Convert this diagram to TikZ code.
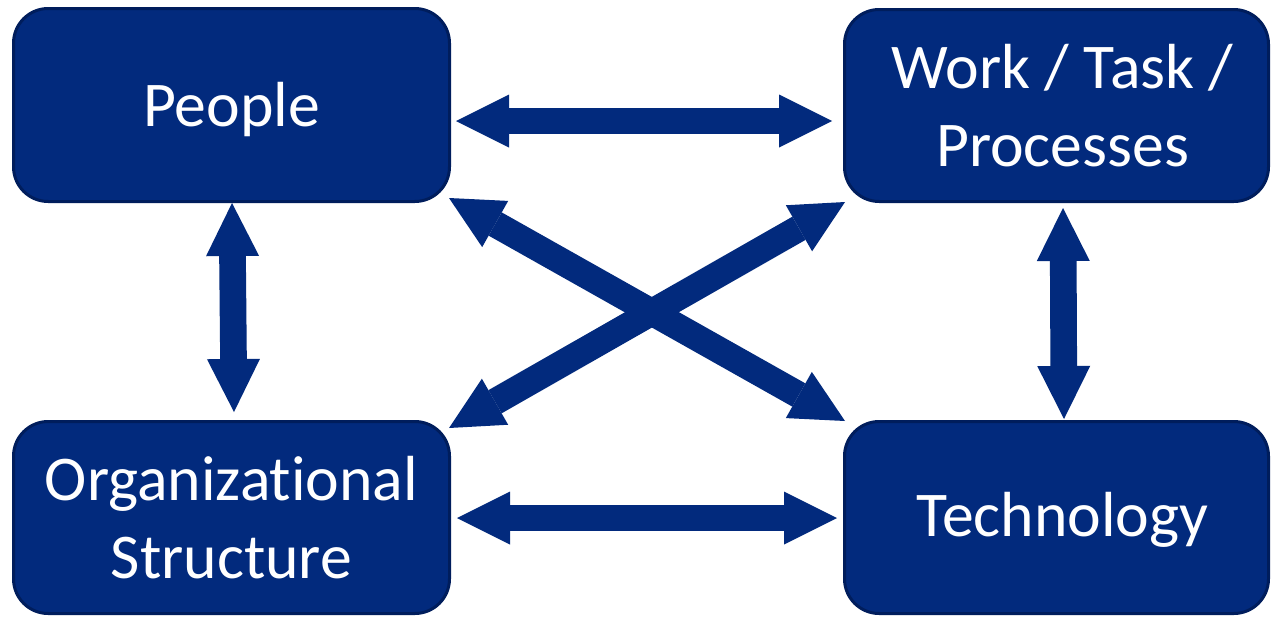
\documentclass[tikz,border=0pt]{standalone}
\usepackage{fontspec}
\setmainfont{Carlito}[Ligatures=NoCommon]
\usetikzlibrary{arrows.meta,calc}
\definecolor{boxblue}{HTML}{022A7D}
\definecolor{edgeblue}{HTML}{001D5C}
\definecolor{arrowblue}{HTML}{022A7D}
\tikzset{
  box/.style={draw=edgeblue, fill=boxblue, line width=2.25pt, rounded corners=26pt,
    text=white, align=center, inner sep=0pt,
    font=\fontsize{47.8pt}{58pt}\selectfont},
  biarrow/.style={draw=arrowblue, line width=20pt,
    arrows={Triangle[length=39.75pt,width=39.75pt,line width=0pt,fill=arrowblue]-Triangle[length=39.75pt,width=39.75pt,line width=0pt,fill=arrowblue]}}
}
\begin{document}
\begin{tikzpicture}[x=0.75pt,y=-0.75pt]
\path[use as bounding box, fill=white] (0,0) rectangle (1271,618);
\node[box, minimum width=327pt, minimum height=144.75pt] (people) at (231.5,105) {\raisebox{-3.75pt}[\height][\depth]{People}};
\node[box, minimum width=318pt, minimum height=144pt] (work) at (1056.5,105.5) {\hspace*{9pt}Work / Task /\\\hspace*{9pt}Processes};
\node[box, minimum width=327pt, minimum height=144pt] (org) at (231.5,517.5) {Organizational\\Structure};
\node[box, minimum width=318pt, minimum height=144pt] (tech) at (1056.5,517.5) {\hspace*{9pt}\raisebox{-2pt}[\height][\depth]{Technology}};
\draw[biarrow] ($(people.east)+(5,16)$) -- ($(work.west)+(-11,15.5)$);
\draw[biarrow] ($(org.east)+(6,0.5)$) -- ($(tech.west)+(-6,0.5)$);
\draw[biarrow] ($(people.south)+(0.5,0)$) -- ($(org.north)+(2.5,-8)$);
\draw[biarrow] ($(work.south)+(6.5,5)$) -- ($(tech.north)+(7.5,-1)$);
\draw[biarrow] ($(people.south east)+(-2,-5)$) -- ($(tech.north west)+(2,1)$);
\draw[biarrow] ($(work.south west)+(2,-1)$) -- ($(org.north east)+(-2,8)$);
\end{tikzpicture}
\end{document}
